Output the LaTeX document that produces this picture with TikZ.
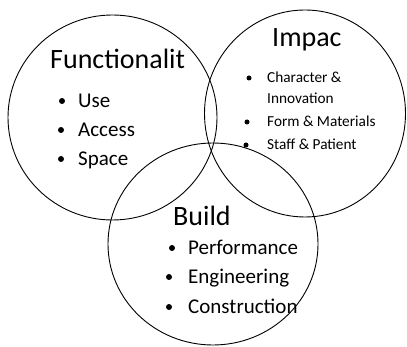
\documentclass[tikz,border=0pt]{standalone}
\usepackage{fontspec}
\setmainfont{Carlito}

\tikzset{
  ring/.style={draw, line width=0.9pt},
  head/.style={font=\fontsize{28}{30}\selectfont, inner sep=0pt, anchor=base west},
  item/.style={font=\fontsize{21}{23}\selectfont, inner sep=0pt, anchor=base west},
  smallitem/.style={font=\fontsize{15.3}{17}\selectfont, inner sep=0pt, anchor=base west},
  dot/.style={circle, fill, inner sep=0pt, minimum size=6pt},
  smalldot/.style={circle, fill, inner sep=0pt, minimum size=5pt}
}

\begin{document}
\begin{tikzpicture}[x=1pt, y=-1pt]
            \useasboundingbox (0,0) rectangle (407,347);
            \coordinate (F) at (112.5,117.5); \coordinate (I) at (305,113.5); \coordinate (B) at (213,244);
            \draw[ring] (F) ellipse [x radius=104.5, y radius=102.5];
            \draw[ring] (I) ellipse [x radius=100.5, y radius=103.5];
            \draw[ring] (B) ellipse [x radius=105, y radius=101];
            % Functionality
            \node[head] (fhead) at (50,69) {Functionalit};
            \node[dot] (fdot1) at (62,101) {}; \node[item] (use) at (78,108) {Use};
            \node[dot] (fdot2) at (61,130) {}; \node[item] (access) at (78,137) {Access};
            \node[dot] (fdot3) at (61,159) {}; \node[item] (space) at (78,166) {Space};
            % Impact
            \node[head] (ihead) at (272,47) {Impac};
            \node[smalldot] (idot1) at (249,78) {}; \node[smallitem] (charac) at (267,83) {Character \&};
            \node[smallitem] (innov) at (267,104) {Innovation};
            \node[smalldot] (idot2) at (247,122) {}; \node[smallitem] (form) at (267,127) {Form \& Materials};
            \node[smalldot] (idot3) at (246,145) {}; \node[smallitem] (staff) at (267,150) {Staff \& Patient};
            % Build
            \node[head] (bhead) at (173,226) {Build};
            \node[dot] (bdot1) at (172,248) {}; \node[item] (perf) at (188,255) {Performance};
            \node[dot] (bdot2) at (169,277) {}; \node[item] (eng) at (188,284) {Engineering};
            \node[dot] (bdot3) at (169,307) {}; \node[item] (cons) at (188,314) {Construction};
        \end{tikzpicture}
\end{document}
